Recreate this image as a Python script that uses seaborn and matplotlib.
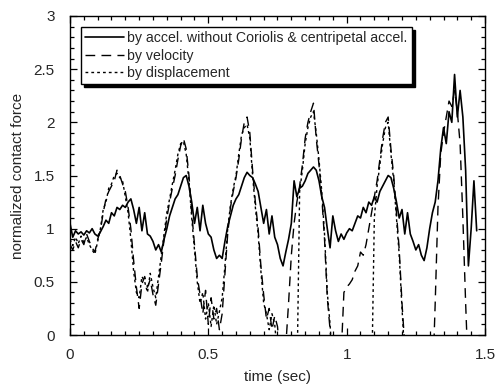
import numpy as np
import pandas as pd
import matplotlib
matplotlib.use("Agg")
import matplotlib.pyplot as plt
import seaborn as sns
from matplotlib.ticker import MultipleLocator

dt = 0.01

accel = [1.05, 0.92, 0.98, 0.95, 0.97, 0.94, 0.98, 0.96, 1.00, 0.95,
         0.93, 0.97, 1.02, 1.08, 1.05, 1.15, 1.12, 1.20, 1.18, 1.22,
         1.20, 1.25, 1.28, 1.18, 1.05, 1.20, 0.98, 1.15, 0.95, 0.93,
         0.88, 0.80, 0.85, 0.78, 0.90, 1.00, 1.12, 1.20, 1.28, 1.32,
         1.40, 1.48, 1.50, 1.40, 1.25, 1.05, 1.20, 0.98, 1.22, 1.05,
         0.95, 0.92, 0.80, 0.72, 0.75, 0.72, 0.88, 1.02, 1.12, 1.22,
         1.28, 1.32, 1.40, 1.48, 1.53, 1.50, 1.48, 1.42, 1.35, 1.20,
         1.05, 1.18, 0.95, 1.12, 0.92, 0.85, 0.72, 0.65, 0.78, 0.90,
         1.05, 1.45, 1.30, 1.38, 1.40, 1.45, 1.52, 1.55, 1.58, 1.55,
         1.45, 1.30, 1.20, 1.00, 0.82, 1.12, 0.98, 0.88, 0.95, 0.90,
         0.96, 1.00, 0.98, 1.05, 1.12, 1.10, 1.20, 1.15, 1.25, 1.22,
         1.30, 1.25, 1.35, 1.40, 1.45, 1.50, 1.48, 1.38, 1.25, 1.10,
         1.18, 0.95, 1.15, 0.95, 0.88, 0.80, 0.85, 0.75, 0.70, 0.82,
         1.00, 1.15, 1.25, 1.45, 1.75, 1.95, 1.80, 2.10, 2.00, 2.45,
         2.05, 2.30, 2.05, 1.55, 0.65, 1.00, 1.45, 0.98]

velocity = [0.85, 0.80, 0.88, 0.82, 0.90, 0.85, 0.95, 0.88, 0.82, 0.78,
            0.90, 0.98, 1.15, 1.28, 1.35, 1.40, 1.45, 1.55, 1.50, 1.42,
            1.35, 1.20, 1.00, 0.70, 0.45, 0.25, 0.48, 0.55, 0.45, 0.52,
            0.38, 0.28, 0.48, 0.68, 0.90, 1.10, 1.25, 1.38, 1.50, 1.65,
            1.78, 1.85, 1.75, 1.50, 1.15, 0.85, 0.55, 0.38, 0.20, 0.42,
            0.10, 0.35, 0.15, 0.25, 0.05, 0.20, 0.58, 0.95, 1.20, 1.35,
            1.48, 1.65, 1.85, 2.00, 2.05, 1.90, 1.55, 1.25, 1.00, 0.65,
            0.38, 0.15, 0.25, 0.05, 0.18, 0.08, -0.20, -0.30, -0.10, 0.30,
            0.75, 1.05, 1.25, 1.40, 1.60, 1.85, 2.00, 2.10, 2.18, 1.85,
            1.60, 1.30, 0.90, 0.35, 0.05, -0.30, -0.50, -0.40, -0.20, 0.40,
            0.45, 0.48, 0.52, 0.60, 0.65, 0.78, 0.75, 0.85, 1.00, 1.15,
            1.30, 1.45, 1.65, 1.85, 2.00, 2.05, 1.75, 1.50, 1.15, 0.80,
            0.30, -0.10, -0.50, -0.60, -0.60, -0.60, -0.60, -0.60, -0.60, -0.60,
            -0.60, -0.50, 0.30, 1.20, 1.70, 1.90, 2.05, 2.20, 2.15, 2.30,
            2.10, 1.80, 1.10, 0.30, -0.40, -0.60]

displacement = [0.90, 0.84, 0.92, 0.86, 0.93, 0.87, 0.92, 0.85, 0.80, 0.76,
                0.88, 1.00, 1.18, 1.25, 1.38, 1.42, 1.50, 1.52, 1.48, 1.45,
                1.30, 1.15, 0.90, 0.60, 0.40, 0.35, 0.55, 0.50, 0.40, 0.58,
                0.45, 0.35, 0.55, 0.75, 0.95, 1.15, 1.28, 1.42, 1.55, 1.70,
                1.80, 1.82, 1.70, 1.45, 1.10, 0.80, 0.50, 0.30, 0.40, 0.15,
                0.30, 0.08, 0.28, 0.10, 0.22, 0.35, 0.65, 1.00, 1.22, 1.38,
                1.50, 1.70, 1.88, 1.95, 1.98, 1.85, 1.50, 1.20, 0.95, 0.60,
                0.30, 0.20, 0.05, 0.20, 0.10, -0.20, -0.50, -0.60, -0.60, -0.60,
                -0.60, -0.60, -0.50, 1.35, 1.55, 1.80, 1.95, 2.05, 2.10, 1.90,
                1.65, 1.35, 0.95, 0.40, 0.10, -0.30, -0.60, -0.60, -0.60, -0.60,
                -0.60, -0.60, -0.60, -0.60, -0.60, -0.60, -0.60, -0.60, -0.60, -0.50,
                1.10, 1.40, 1.60, 1.80, 1.95, 2.00, 1.70, 1.45, 1.10, 0.75,
                0.25, -0.20, -0.60]

labels = ["by accel. without Coriolis & centripetal accel.",
          "by velocity",
          "by displacement"]

x_ticks = [0, 0.5, 1, 1.5]
x_ticklabels = ["0", "0.5", "1", "1.5"]
y_ticks = [0, 0.5, 1, 1.5, 2, 2.5, 3]
y_ticklabels = ["0", "0.5", "1", "1.5", "2", "2.5", "3"]


def frame(values, name):
    t = np.round(np.arange(len(values)) * dt, 2)
    return pd.DataFrame({"time": t, "force": values, "series": name})


sns.set_theme(style="ticks")
plt.rcParams["font.family"] = ["Liberation Sans", "DejaVu Sans"]

fig = plt.figure(figsize=(4.95, 3.90), dpi=100)
ax = fig.add_axes([0.1414, 0.1410, 0.8384, 0.8180])

styles = [("-", 1.2), ((0, (7, 4.5)), 1.0), ((0, (2, 2.2)), 1.0)]
for vals, lab, (ls, lw) in zip([accel, velocity, displacement], labels, styles):
    df = frame(vals, lab)
    sns.lineplot(data=df, x="time", y="force", ax=ax, color="black",
                 linestyle=ls, linewidth=lw, label=lab, sort=False,
                 estimator=None)

ax.set_xlim(0, 1.5)
ax.set_ylim(0, 3)
ax.set_xticks(x_ticks)
ax.set_xticklabels(x_ticklabels)
ax.set_yticks(y_ticks)
ax.set_yticklabels(y_ticklabels)
ax.xaxis.set_minor_locator(MultipleLocator(0.05))
ax.yaxis.set_minor_locator(MultipleLocator(0.1))
ax.tick_params(which="both", direction="in", top=True, right=True,
               color="black", width=0.9)
ax.tick_params(which="major", length=5, labelsize=11)
ax.tick_params(axis="x", which="major", pad=9)
ax.tick_params(axis="y", which="major", pad=11)
ax.tick_params(which="minor", length=3)
for sp in ax.spines.values():
    sp.set_color("black")
    sp.set_linewidth(1.0)

ax.set_xlabel("time (sec)", fontsize=11, labelpad=6)
ax.set_ylabel("normalized contact force", fontsize=11, labelpad=6)

leg = ax.legend(loc="upper left", bbox_to_anchor=(0.027, 0.965),
                fontsize=10.2, frameon=True, fancybox=False,
                shadow={"color": "black", "alpha": 1.0},
                handlelength=2.75, handletextpad=0.2, labelspacing=0.22,
                borderpad=0.3, borderaxespad=0.0)
leg.get_frame().set_edgecolor("black")
leg.get_frame().set_linewidth(1.0)
leg.get_frame().set_facecolor("white")
leg.get_frame().set_alpha(1.0)

fig.savefig("out.png", dpi=100)
